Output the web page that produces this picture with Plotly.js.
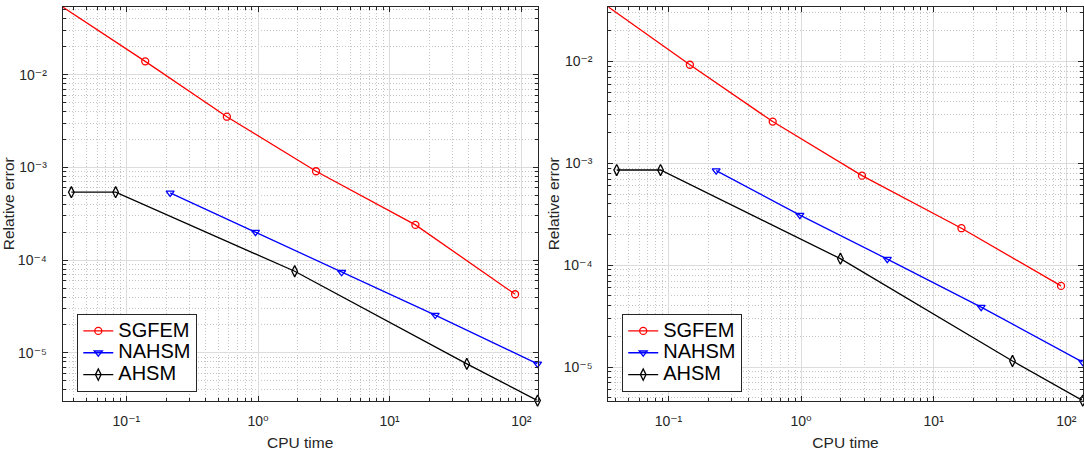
<!DOCTYPE html>
<html>
<head>
<meta charset="utf-8">
<script src="https://cdn.plot.ly/plotly-3.0.1.min.js"></script>
<style>
  html, body { margin: 0; padding: 0; background: #fff; }
  #chart { width: 1084px; height: 454px; }
</style>
</head>
<body>
<div id="chart"></div>
<script>
// ---- Data ----
const seriesNames = ["SGFEM", "NAHSM", "AHSM"];

// Left panel
const leftSgfemTime  = [0.0328, 0.139, 0.580, 2.76, 15.7, 89.8];
const leftSgfemError = [0.0536, 0.0139, 0.00352, 9.08e-4, 2.40e-4, 4.29e-5];
const leftNahsmTime  = [0.215, 0.957, 4.32, 22.2, 133];
const leftNahsmError = [5.30e-4, 2.00e-4, 7.40e-5, 2.56e-5, 7.61e-6];
const leftAhsmTime   = [0.0382, 0.0829, 1.90, 38.6, 133];
const leftAhsmError  = [5.40e-4, 5.40e-4, 7.59e-5, 7.61e-6, 3.06e-6];

// Right panel
const rightSgfemTime  = [0.0352, 0.145, 0.611, 2.88, 16.2, 91.3];
const rightSgfemError = [0.0342, 0.00927, 0.00257, 7.57e-4, 2.31e-4, 6.27e-5];
const rightNahsmTime  = [0.229, 0.98, 4.47, 22.8, 133];
const rightNahsmError = [8.48e-4, 3.10e-4, 1.15e-4, 3.89e-5, 1.12e-5];
const rightAhsmTime   = [0.0407, 0.0871, 1.98, 39.3, 133];
const rightAhsmError  = [8.60e-4, 8.60e-4, 1.16e-4, 1.15e-5, 4.70e-6];

// Tick labels
const xTickVals = [0.1, 1, 10, 100];
const xTickText = ["10\u207B\u00B9", "10\u2070", "10\u00B9", "10\u00B2"];
const yTickVals = [1e-5, 1e-4, 1e-3, 1e-2];
const yTickText = ["10\u207B\u2075", "10\u207B\u2074", "10\u207B\u00B3", "10\u207B\u00B2"];
const xLabel = "CPU time";
const yLabel = "Relative error";

// ---- Styling ----
const FONT = "Liberation Sans, Arial, Helvetica, DejaVu Sans, sans-serif";
const AXC = "#262626";
const colors = ["#ff0000", "#0000ff", "#000000"];
const symbols = ["circle-open", "triangle-down-open", "diamond-tall-open"];
const msizes = [7, 7, 8];

function minorVals(loExp, hiExp) {
  const v = [];
  for (let e = loExp; e <= hiExp; e++) {
    for (let m = 2; m <= 9; m++) v.push(m * Math.pow(10, e));
  }
  return v;
}

function mkTrace(x, y, i, xa, ya, legend) {
  return {
    x: x, y: y,
    name: "<span style='font-size:20px'>" + seriesNames[i] + "</span>",
    type: "scatter", mode: "lines+markers",
    xaxis: xa, yaxis: ya, legend: legend, cliponaxis: false,
    line: { color: colors[i], width: 1.3 },
    marker: { symbol: symbols[i], size: msizes[i], color: colors[i], line: { color: colors[i], width: 1.3 } }
  };
}

const data = [
  mkTrace(leftSgfemTime, leftSgfemError, 0, "x", "y", "legend"),
  mkTrace(leftNahsmTime, leftNahsmError, 1, "x", "y", "legend"),
  mkTrace(leftAhsmTime, leftAhsmError, 2, "x", "y", "legend"),
  mkTrace(rightSgfemTime, rightSgfemError, 0, "x2", "y2", "legend2"),
  mkTrace(rightNahsmTime, rightNahsmError, 1, "x2", "y2", "legend2"),
  mkTrace(rightAhsmTime, rightAhsmError, 2, "x2", "y2", "legend2")
];

function logRange(arrs) {
  const all = [].concat(...arrs);
  return [Math.log10(Math.min(...all)), Math.log10(Math.max(...all))];
}

const minorGrid = { ticks: "inside", ticklen: 3, tickcolor: AXC,
                    showgrid: true, gridcolor: "#c4c4c4", griddash: "1px,2px", gridwidth: 1 };

function xAxis(domain, range, anchor) {
  return {
    type: "log", domain: domain, range: range, anchor: anchor,
    tickmode: "array", tickvals: xTickVals, ticktext: xTickText,
    ticks: "inside", ticklen: 5, tickwidth: 1, tickcolor: AXC,
    showline: true, linecolor: AXC, linewidth: 1, mirror: "ticks",
    showgrid: true, gridcolor: "#dcdcdc", gridwidth: 1,
    tickfont: { family: FONT, size: 14, color: AXC },
    ticklabelstandoff: 8,
    minor: Object.assign({ tickmode: "array", tickvals: minorVals(-2, 2) }, minorGrid),
    title: { text: xLabel, font: { family: FONT, size: 15.5, color: AXC }, standoff: 8 },
    automargin: false, zeroline: false
  };
}
function yAxis(domain, range, anchor) {
  return {
    type: "log", domain: domain, range: range, anchor: anchor,
    tickmode: "array", tickvals: yTickVals, ticktext: yTickText,
    ticks: "inside", ticklen: 5, tickwidth: 1, tickcolor: AXC,
    showline: true, linecolor: AXC, linewidth: 1, mirror: "ticks",
    showgrid: true, gridcolor: "#dcdcdc", gridwidth: 1,
    tickfont: { family: FONT, size: 14, color: AXC },
    ticklabelstandoff: 12,
    minor: Object.assign({ tickmode: "array", tickvals: minorVals(-7, -1) }, minorGrid),
    title: { text: yLabel, font: { family: FONT, size: 15.5, color: AXC }, standoff: 0 },
    automargin: false, zeroline: false
  };
}

const yDom = [0.1176, 0.9846];
const legendStyle = {
  bgcolor: "#ffffff", bordercolor: AXC, borderwidth: 1,
  font: { family: FONT, size: 14.5, color: "#000000" },
  xref: "paper", yref: "paper", xanchor: "left", yanchor: "top",
  tracegroupgap: 0, itemclick: false
};

const layout = {
  width: 1084, height: 454,
  margin: { l: 0, r: 0, t: 0, b: 0 },
  paper_bgcolor: "#ffffff", plot_bgcolor: "#ffffff",
  showlegend: true,
  xaxis: xAxis([0.0578, 0.4959], logRange([leftSgfemTime, leftNahsmTime, leftAhsmTime]), "y"),
  yaxis: yAxis(yDom, logRange([leftSgfemError, leftNahsmError, leftAhsmError]), "x"),
  xaxis2: xAxis([0.5612, 0.9988], logRange([rightSgfemTime, rightNahsmTime, rightAhsmTime]), "y2"),
  yaxis2: yAxis(yDom, logRange([rightSgfemError, rightNahsmError, rightAhsmError]), "x2"),
  legend: Object.assign({ x: 0.0713, y: 0.3084 }, legendStyle),
  legend2: Object.assign({ x: 0.574, y: 0.3084 }, legendStyle)
};

Plotly.newPlot("chart", data, layout, { staticPlot: true, displayModeBar: false });
</script>
</body>
</html>
